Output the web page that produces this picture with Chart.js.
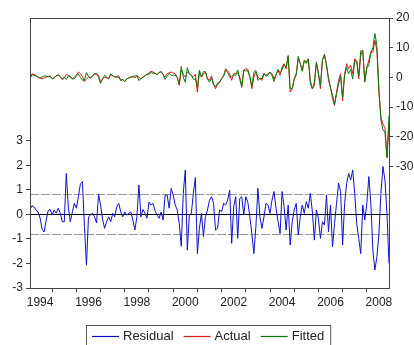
<!DOCTYPE html>
<html lang="en">
<head>
<meta charset="utf-8"/>
<title>Residual / Actual / Fitted</title>
<script src="https://cdn.jsdelivr.net/npm/chart.js@4.4.3/dist/chart.umd.min.js"></script>
<style>
  html, body { margin: 0; padding: 0; background: #fff; }
  canvas { display: block; }
</style>
</head>
<body>
<canvas id="chart" width="414" height="345"></canvas>
<script>
// Monthly sample 1994M02 .. 2008M12
const START_YEAR = 1994;
const START_MONTH = 2;

// Residual (left axis)
const residual = [
  0.2, 0.35, 0.3, 0.18, 0.1, -0.15, -0.6, -0.72, -0.25, 0.15,
  0.2, -0.03, 0.18, 0.05, 0.25, 0.05, -0.3, -0.3, 1.67, 0.3,
  -0.3, 0.1, 0.45, 0.25, 0.72, 1.25, 1.33, -0.5, -2.07, -0.1,
  -0.03, 0.04, -0.1, -0.35, 0.82, 0.38, -0.2, -0.57, -0.3, -0.1,
  -0.3, 0.04, -0.1, 0.3, 0.45, 0.1, -0.1, 0.1, -0.03, 0.04,
  0.1, -0.23, -0.64, -0.1, 1.2, -0.1, 0.2, 0.05, -0.16, 0.5,
  0.38, 0.45, 0.15, -0.03, -0.16, 0.1, -0.23, 0.79, 0.79, 0.25,
  1.06, 0.79, 0.38, 0.18, -0.37, -1.3, 0.86, 1.81, -1.46, -0.03,
  0.04, 0.86, 1.5, -1.6, -0.57, 0.04, -0.9, -0.1, 0.18,
  0.58, 0.72, 0.45, -0.64, -0.57, 0.18, 0.1, 0.45, 0.38, 0.58,
  0.99, -1.18, 0.31, 0.72, -0.98, 0.65, 0.72, -0.03, 0.72, 0.5,
  -0.1, -0.78, -1.6, -0.5, 1.06, -0.1, -0.57, -0.1, 0.45, 0.38,
  0.04, 0.58, 0.93, 0.25, -0.3, -0.78, 0.93, 0.31, -0.64, 0.38,
  -1.25, -0.3, 0.18, 0.45, -0.84, -0.1, 0.38, 0.04, 0.52, 0.25,
  0.86, 0.1, -1.05, 0.18, -0.16, -0.98, -0.3, -0.43, 0.79, -0.71,
  0.38, -1.32, -0.37, 0.45, 1.27, 0.93, -1.25, 0.45, 1.27, 1.67,
  1.4, 1.81, 0.86, -0.37, -0.98, -1.6, 0.38, -0.23, 0.45, 1.54,
  0.45, -1.46, -2.27, -1.73, -0.78, 0.86, 1.95, 1.4, 0.04, -2.0,
];

// Actual (right axis)
const actual = [
  -0.2, 1.2, 1.0, 0.7, 0.1, -0.3, -0.5, -0.2, 0.1, 0.3,
  0.5, -0.5, 0.0, 0.5, 0.9, 0.2, -0.8, -0.3, 1.0, 0.7,
  0.2, -0.5, 0.1, 0.7, 1.8, 1.2, 0.3, -1.4, -0.5, 0.1,
  -0.2, 0.5, 1.2, 0.9, 0.7, -1.6, -0.6, 0.1, -0.2, -0.5,
  0.9, 0.5, 0.1, 0.3, 0.5, -1.0, -0.8, -1.4, -0.5, -0.2,
  0.1, 0.2, -0.2, 0.5, 0.1, -0.5, 0.1, 0.5, 0.9, 1.5,
  2.0, 1.8, 1.4, 0.9, 1.5, 2.0, 0.8, 0.1, 1.2, 1.5,
  1.8, 1.5, 1.2, 0.1, -2.7, 2.4, 1.0, 0.1, 1.8, 1.2,
  0.7, 0.2, 1.0, -5.0, 1.8, 0.1, 1.0, 1.8, -0.5, -1.0,
  0.5, -2.1, -3.8, -2.5, -1.6, -0.4, 0.7, 2.9, 2.2, 1.2,
  -1.0, 1.2, 1.3, 1.5, 0.1, -2.7, 2.4, 2.9, 2.7, 0.1,
  -3.8, 0.1, 1.8, 0.1, -0.5, -1.0, 1.2, 0.7, 1.2, 1.8,
  1.2, -0.5, 1.0, 2.4, 0.7, 3.5, 4.6, 2.9, 7.4, -5.0,
  -4.0, -0.5, 1.2, 6.3, 4.6, 2.4, 5.7, 5.2, 6.3, -1.0,
  -3.8, -2.7, 5.2, 1.2, -3.8, 5.7, 7.4, 4.6, -0.8, -3.3,
  -7.2, -9.5, -5.0, -1.0, 1.2, -7.9, 1.2, 4.6, 2.9, 4.1,
  1.2, 6.3, 5.2, -0.5, 7.4, 9.1, -1.6, 3.5, 5.7, 8.6,
  8.5, 12.5, 9.0, -5.0, -13.4, -15.7, -17.0, -27.0, -15.0,
];

// Fitted (right axis)
const fitted = [
  -0.4, 0.9, 0.7, 0.5, 0.0, -0.2, 0.1, 0.5, 0.4, 0.2,
  0.3, -0.5, -0.2, 0.5, 0.7, 0.2, -0.5, 0.0, -0.7, 0.4,
  0.5, -0.6, -0.4, 0.5, 1.1, 0.0, -1.0, -0.9, 1.6, 0.2,
  -0.2, 0.5, 1.3, 1.3, -0.1, -2.0, -0.4, 0.7, 0.1, -0.4,
  1.2, 0.5, 0.2, 0.0, 0.1, -1.1, -0.7, -1.5, -0.5, -0.2,
  0.0, 0.4, 0.4, 0.6, -1.1, -0.4, -0.1, 0.5, 1.1, 1.0,
  1.6, 1.4, 1.3, 0.9, 1.7, 1.9, 1.0, -0.7, 0.4, 1.3,
  0.7, 0.7, 0.8, -0.1, -2.3, 3.7, 0.1, -1.7, 3.3, 1.2,
  0.7, -0.7, -0.5, -3.4, 2.4, 0.1, 1.9, 1.9, -0.7, -1.6,
  -0.2, -2.6, -3.2, -1.9, -1.8, -0.5, 0.3, 2.5, 1.6, 0.2,
  0.2, 0.9, 0.6, 2.5, -0.6, -3.4, 2.4, 2.2, 2.2, 0.2,
  -3.0, 1.7, 2.3, -1.0, -0.4, -0.4, 1.3, 0.3, 0.8, 1.8,
  0.6, -1.4, 0.8, 2.7, 1.5, 2.6, 4.3, 3.5, 7.0, -3.8,
  -3.7, -0.7, 0.8, 7.1, 4.7, 2.0, 5.7, 4.7, 6.1, -1.9,
  -3.9, -1.7, 5.0, 1.4, -2.8, 6.0, 7.8, 3.8, -0.1, -3.7,
  -5.9, -9.1, -5.5, -2.3, 0.3, -6.7, 0.8, 3.3, 1.2, 2.7,
  -0.6, 5.4, 5.6, 0.5, 9.0, 8.7, -1.4, 3.1, 4.2, 8.2,
  10.0, 14.8, 10.7, -4.2, -14.3, -17.7, -18.4, -27.0, -13.0,
];

// Regression standard error, drawn as +/- band around zero
const residualSE = 0.81;

const yearLabels = ['1994', '1996', '1998', '2000', '2002', '2004', '2006', '2008'];
const leftTicks = [-3, -2, -1, 0, 1, 2, 3];
const rightTicks = [-30, -20, -10, 0, 10, 20];

const X_MIN = START_YEAR + (START_MONTH - 1) / 12;
const X_MAX = START_YEAR + (START_MONTH - 1 + residual.length - 1) / 12;
const toPoints = (arr) => arr.map((v, i) => ({ x: START_YEAR + (START_MONTH - 1 + i) / 12, y: v }));

const FONT = "'Liberation Sans', Arial, sans-serif";
const AXIS = '#444';
const TEXT = '#222';

// zero line and the dashed +/- SE lines on the residual axis
const residualGuides = {
  id: 'residualGuides',
  beforeDatasetsDraw(chart) {
    const { ctx, chartArea: a } = chart;
    const y = chart.scales.yRes;
    ctx.save();
    ctx.lineWidth = 1;
    ctx.strokeStyle = '#9a9a9a';
    ctx.setLineDash([9, 2]);
    for (const v of [residualSE, -residualSE]) {
      const py = Math.round(y.getPixelForValue(v)) + 0.5;
      ctx.beginPath(); ctx.moveTo(a.left, py); ctx.lineTo(a.right, py); ctx.stroke();
    }
    ctx.setLineDash([]);
    ctx.strokeStyle = '#000';
    const p0 = Math.round(y.getPixelForValue(0)) + 0.5;
    ctx.beginPath(); ctx.moveTo(a.left, p0); ctx.lineTo(a.right, p0); ctx.stroke();
    ctx.restore();
  },
  afterDatasetsDraw(chart) {
    const { ctx, chartArea: a } = chart;
    ctx.save();
    ctx.strokeStyle = AXIS;
    ctx.lineWidth = 1;
    ctx.strokeRect(Math.round(a.left) + 0.5, Math.round(a.top) + 0.5,
      Math.round(a.right - a.left), Math.round(a.bottom - a.top));
    ctx.restore();
  },
};

// boxed legend under the axis, lines + labels in one row
const boxedLegend = {
  id: 'boxedLegend',
  afterDraw(chart) {
    const { ctx } = chart;
    const sets = chart.data.datasets;
    const lineLen = 27, gap = 4, space = 10, cy = 336;
    ctx.save();
    ctx.font = '13px ' + FONT;
    const widths = sets.map((d) => ctx.measureText(d.label).width);
    const total = widths.reduce((s, w) => s + lineLen + gap + w, 0) + space * (sets.length - 1);
    let x = Math.round(chart.width / 2 + 1 - total / 2);
    ctx.strokeStyle = '#555';
    ctx.lineWidth = 1;
    ctx.strokeRect(x - 6 + 0.5, 325.5, total + 12, 30);
    ctx.textBaseline = 'middle';
    sets.forEach((d, i) => {
      ctx.strokeStyle = d.borderColor;
      ctx.lineWidth = 1.2;
      ctx.beginPath(); ctx.moveTo(x, cy + 0.5); ctx.lineTo(x + lineLen, cy + 0.5); ctx.stroke();
      x += lineLen + gap;
      ctx.fillStyle = TEXT;
      ctx.fillText(d.label, x, cy);
      x += widths[i] + space;
    });
    ctx.restore();
  },
};

const line = (label, data, color, axis, order) => ({
  label, data: toPoints(data), yAxisID: axis, order,
  borderColor: color, borderWidth: 1, pointRadius: 0, tension: 0, fill: false,
});

new Chart(document.getElementById('chart'), {
  type: 'line',
  data: {
    datasets: [
      line('Residual', residual, '#1010cc', 'yRes', 2),
      line('Actual', actual, '#e01818', 'yAct', 1),
      line('Fitted', fitted, '#0a7a0a', 'yAct', 0),
    ],
  },
  options: {
    responsive: false,
    animation: false,
    layout: { padding: { top: 18, left: 0, right: 0, bottom: 0 } },
    plugins: { legend: { display: false }, tooltip: { enabled: false } },
    scales: {
      x: {
        type: 'linear',
        min: X_MIN,
        max: X_MAX,
        afterFit: (s) => { s.height = 57; },
        afterBuildTicks: (s) => {
          const t = [];
          for (let y = START_YEAR + 1; y <= X_MAX; y++) t.push({ value: y });
          yearLabels.forEach((l) => t.push({ value: Number(l) + 0.5 }));
          s.ticks = t.sort((a, b) => a.value - b.value);
        },
        border: { display: false },
        grid: {
          drawOnChartArea: false,
          tickLength: 4,
          color: (c) => (c.tick && Number.isInteger(c.tick.value) ? AXIS : 'rgba(0,0,0,0)'),
          tickColor: (c) => (c.tick && Number.isInteger(c.tick.value) ? AXIS : 'rgba(0,0,0,0)'),
        },
        ticks: {
          autoSkip: false, maxRotation: 0, padding: 3, color: TEXT,
          font: { family: FONT, size: 12 },
          callback: (v) => (Number.isInteger(v) ? '' : String(Math.floor(v))),
        },
      },
      yRes: {
        type: 'linear',
        position: 'left',
        min: -3,
        max: 8,
        afterFit: (s) => { s.width = 30; },
        afterBuildTicks: (s) => { s.ticks = leftTicks.map((v) => ({ value: v })); },
        border: { display: false },
        grid: { drawOnChartArea: false, tickLength: 4, color: AXIS },
        ticks: { padding: 3, color: TEXT, font: { family: FONT, size: 12 } },
      },
      yAct: {
        type: 'linear',
        position: 'right',
        min: -71,
        max: 20,
        afterFit: (s) => { s.width = 25; },
        afterBuildTicks: (s) => { s.ticks = rightTicks.map((v) => ({ value: v })); },
        border: { display: false },
        grid: { drawOnChartArea: false, tickLength: 4, color: AXIS },
        ticks: { padding: 3, color: TEXT, font: { family: FONT, size: 12 } },
      },
    },
  },
  plugins: [residualGuides, boxedLegend],
});
</script>
</body>
</html>
